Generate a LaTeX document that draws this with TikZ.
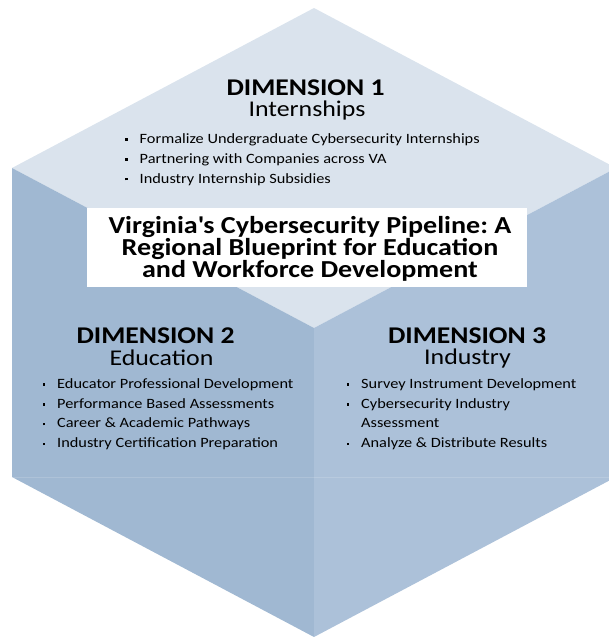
\documentclass[tikz,border=0pt]{standalone}
\usepackage{fontspec}
\setmainfont{Carlito}[FakeStretch=1.15]
\begin{document}
\frenchspacing
\definecolor{topface}{RGB}{218,227,237}
\definecolor{leftface}{RGB}{160,184,210}
\definecolor{rightface}{RGB}{172,193,217}
\newcommand{\sqbul}{\makebox[14.5pt][l]{\raisebox{2.6pt}{\rule{2.6pt}{2.6pt}}}}
\tikzset{
  head/.style={anchor=base,inner sep=0pt,font=\fontsize{24}{26}\selectfont\bfseries},
  subhead/.style={anchor=base,inner sep=0pt,font=\fontsize{22.5}{24}\selectfont},
  bullets/.style={anchor=base west,inner sep=0pt,align=left,font=\fontsize{14.2}{19.8}\selectfont},
  whitebox/.style={fill=white,draw=none,inner sep=0pt,minimum width=440pt,minimum height=79pt},
  titletext/.style={anchor=base,inner sep=0pt,align=center,font=\fontsize{24.4}{22}\selectfont\bfseries},
}
\begin{tikzpicture}[x=1pt,y=-1pt]
\useasboundingbox (0,0) rectangle (609,637);
% cube corners
\coordinate (T) at (314,8);
\coordinate (L) at (12,168);
\coordinate (C) at (314,328);
\coordinate (R) at (616,168);
\coordinate (LB) at (12,477);
\coordinate (B) at (314,637);
\coordinate (RB) at (616,477);
\begin{scope}
\clip (0,0) rectangle (609,637);
\fill[topface] (T) -- (R) -- (C) -- (L) -- cycle;
\fill[leftface] (L) -- (C) -- (B) -- (LB) -- cycle;
\fill[rightface] (C) -- (R) -- (RB) -- (B) -- cycle;
\draw[white,opacity=0.15,line width=0.8pt] (LB) -- (RB);
\end{scope}
% central title
\node[whitebox] (box) at (307,247.5) {};
\node[titletext] (title) at (310,277.7) {Virginia\textquotesingle s Cybersecurity Pipeline: A\\Regional Blueprint for Education\\and Workforce Development};
% dimension 1
\node[head] (d1) at (305.5,95) {DIMENSION 1};
\node[subhead] (d1s) at (307,116.7) {Internships};
\node[bullets] (d1b) at (125,183) {\sqbul Formalize Undergraduate Cybersecurity Internships\\
  \sqbul Partnering with Companies across VA\\
  \sqbul Industry Internship Subsidies};
% dimension 2
\node[head] (d2) at (155.5,343) {DIMENSION 2};
\node[subhead] (d2s) at (161.5,365) {Education};
\node[bullets] (d2b) at (42.5,447.7) {\sqbul Educator Professional Development\\
  \sqbul Performance Based Assessments\\
  \sqbul Career \& Academic Pathways\\
  \sqbul Industry Certification Preparation};
% dimension 3
\node[head] (d3) at (467,343) {DIMENSION 3};
\node[subhead] (d3s) at (467.5,364) {Industry};
\node[bullets] (d3b) at (346.5,447.7) {\sqbul Survey Instrument Development\\
  \sqbul Cybersecurity Industry\\
  \hspace*{14.5pt}Assessment\\
  \sqbul Analyze \& Distribute Results};
\end{tikzpicture}
\end{document}
